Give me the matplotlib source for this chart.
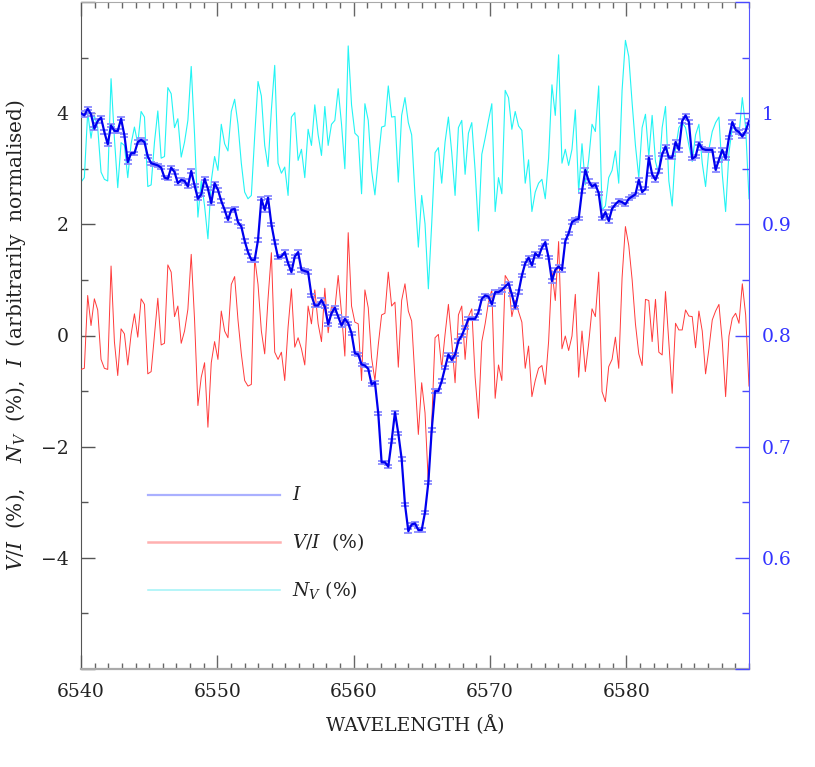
import numpy as np
import matplotlib
matplotlib.use("Agg")
import matplotlib.pyplot as plt
from matplotlib.ticker import MultipleLocator, FuncFormatter

# ---------------- data ----------------
WL_START = 6540.0      # Angstrom, first pixel
WL_STEP = 0.245        # Angstrom per pixel

# Stokes I (arbitrarily normalised), right axis
stokes_i = [
    1.000, 0.998, 1.004, 0.999, 0.986, 0.993, 0.996, 0.983, 0.972, 0.989,
    0.984, 0.984, 0.995, 0.980, 0.956, 0.964, 0.964, 0.974, 0.976, 0.974,
    0.961, 0.955, 0.954, 0.953, 0.951, 0.942, 0.941, 0.951, 0.947, 0.937,
    0.940, 0.939, 0.934, 0.948, 0.935, 0.923, 0.927, 0.941, 0.932, 0.919,
    0.937, 0.931, 0.921, 0.913, 0.904, 0.913, 0.914, 0.902, 0.898, 0.885,
    0.875, 0.868, 0.868, 0.886, 0.923, 0.913, 0.924, 0.900, 0.884, 0.870,
    0.871, 0.875, 0.865, 0.857, 0.871, 0.875, 0.859, 0.858, 0.857, 0.836,
    0.827, 0.827, 0.832, 0.826, 0.810, 0.820, 0.825, 0.817, 0.809, 0.815,
    0.811, 0.802, 0.784, 0.783, 0.774, 0.773, 0.770, 0.756, 0.758, 0.730,
    0.686, 0.686, 0.682, 0.705, 0.731, 0.712, 0.689, 0.648, 0.624, 0.630,
    0.631, 0.625, 0.625, 0.641, 0.668, 0.715, 0.750, 0.750, 0.759, 0.771,
    0.783, 0.778, 0.783, 0.795, 0.800, 0.807, 0.815, 0.815, 0.815, 0.821,
    0.833, 0.836, 0.835, 0.828, 0.839, 0.839, 0.841, 0.844, 0.847, 0.837,
    0.825, 0.839, 0.854, 0.865, 0.870, 0.863, 0.874, 0.871, 0.879, 0.884,
    0.870, 0.849, 0.859, 0.862, 0.859, 0.885, 0.892, 0.902, 0.904, 0.905,
    0.930, 0.949, 0.939, 0.934, 0.936, 0.928, 0.905, 0.911, 0.903, 0.914,
    0.918, 0.921, 0.920, 0.918, 0.923, 0.925, 0.927, 0.940, 0.929, 0.932,
    0.960, 0.945, 0.940, 0.948, 0.963, 0.970, 0.960, 0.960, 0.974, 0.967,
    0.993, 0.998, 0.992, 0.959, 0.961, 0.973, 0.968, 0.967, 0.967, 0.967,
    0.949, 0.958, 0.967, 0.959, 0.978, 0.992, 0.985, 0.983, 0.979, 0.984,
    0.993,
]
I_ERR = 0.0015

# V/I (%), left axis
v_over_i = [
    -0.61, -0.59, 0.72, 0.18, 0.66, 0.46, -0.43, -0.59, -0.61, 1.25,
    -0.11, -0.72, 0.12, 0.03, -0.53, 0.02, 0.39, -0.03, 0.66, 0.56,
    -0.69, -0.65, 0.02, 0.67, -0.17, -0.14, 1.27, 1.14, 0.34, 0.53,
    -0.14, 0.08, 0.47, 1.46, 0.28, -1.26, -0.75, -0.49, -1.65, -0.49,
    -0.11, -0.43, 0.44, 0.08, -0.04, 0.92, 1.06, 0.28, -0.33, -0.81,
    -0.91, -0.88, 1.40, 0.92, 0.08, -0.33, 0.66, 1.49, -0.30, -0.43,
    -0.30, -0.81, 0.15, 0.84, -0.21, -0.04, -0.24, -0.53, 0.53, 0.21,
    0.82, 0.21, -0.11, 0.85, 0.05, 0.53, 0.47, 1.08, 0.40, -0.37,
    1.85, 0.53, 0.24, 0.21, -0.81, 0.82, 0.50, -0.40, -0.81, -0.17,
    0.37, 0.40, 1.14, 0.53, 0.60, -0.57, 0.63, 0.93, 0.44, 0.26,
    -0.78, -1.78, -0.85, -1.39, -2.67, -1.58, -0.04, 0.02, -0.59, 0.02,
    0.56, -0.11, -0.85, 0.37, 0.53, -0.43, 0.34, 0.48, -0.75, -1.49,
    -0.11, 0.21, 0.60, 0.82, -1.13, -0.53, -0.81, 1.08, 0.98, 0.34,
    0.63, 0.43, 0.24, -0.59, -0.19, -1.10, -0.81, -0.59, -0.54, -0.88,
    -0.11, 1.17, 0.63, 1.69, -0.24, -0.01, -0.27, -0.01, 0.74, -0.75,
    0.08, -0.65, -0.14, 0.48, 0.34, 1.14, -1.01, -1.19, -0.56, -0.43,
    -0.03, -0.59, 1.04, 1.96, 1.62, 1.01, 0.21, -0.33, -0.54, 0.65,
    0.63, -0.11, 0.65, -0.30, -0.35, 0.79, -0.11, -1.04, 0.22, 0.10,
    0.10, 0.46, 0.35, 0.34, -0.22, 0.44, 0.08, -0.69, -0.24, 0.28,
    0.44, 0.56, -0.11, -1.10, -0.01, 0.31, 0.40, 0.22, 0.93, 0.37,
    -0.91,
]

# N_V (%), as drawn (shifted up), left axis
null_v = [
    2.76, 2.84, 4.01, 3.55, 3.96, 3.74, 2.94, 2.81, 2.78, 4.62,
    3.55, 2.66, 3.47, 3.42, 2.84, 3.45, 3.75, 3.45, 4.03, 3.93,
    2.68, 2.71, 3.48, 4.04, 3.19, 3.22, 4.46, 4.35, 3.74, 3.90,
    3.21, 3.48, 3.87, 4.84, 3.61, 2.13, 2.78, 2.33, 1.74, 2.78,
    3.22, 2.97, 3.80, 3.45, 3.32, 4.03, 4.25, 3.80, 3.10, 2.58,
    2.46, 2.52, 3.58, 4.57, 4.31, 3.42, 3.04, 4.06, 4.86, 3.10,
    2.92, 3.03, 2.52, 3.93, 4.01, 3.15, 3.35, 2.84, 3.71, 3.42,
    4.15, 3.61, 3.24, 4.12, 3.42, 3.80, 3.87, 4.44, 3.80, 3.00,
    5.21, 4.15, 3.64, 3.58, 2.55, 4.17, 3.87, 2.97, 2.53, 3.16,
    3.75, 3.77, 4.49, 3.93, 3.94, 2.76, 3.96, 4.28, 3.83, 3.61,
    2.52, 1.59, 2.52, 2.01, 0.84, 2.01, 3.29, 3.38, 2.74, 3.48,
    3.93, 3.29, 2.52, 3.74, 3.87, 2.90, 3.64, 3.83, 2.97, 1.88,
    3.26, 3.55, 3.87, 4.17, 2.23, 2.84, 2.55, 4.41, 4.28, 3.71,
    4.03, 3.77, 3.69, 2.74, 3.16, 2.23, 2.58, 2.74, 2.81, 2.46,
    3.19, 4.51, 3.96, 5.05, 3.10, 3.35, 3.06, 3.35, 4.06, 2.58,
    3.45, 2.71, 3.16, 3.80, 3.67, 4.49, 2.26, 2.33, 2.84, 2.97,
    3.32, 2.74, 4.41, 5.31, 5.02, 4.19, 3.42, 2.84, 3.74, 3.98,
    3.22, 3.96, 3.13, 2.90, 3.74, 4.12, 2.78, 2.33, 3.35, 3.74,
    3.83, 3.74, 3.42, 3.13, 3.61, 3.80, 3.10, 2.68, 3.35, 3.67,
    3.83, 3.93, 2.90, 2.23, 3.29, 3.74, 3.74, 3.61, 4.28, 3.74,
    2.46,
]

x_ticks_major = [6540, 6550, 6560, 6570, 6580]

# ---------------- figure ----------------
plt.rcParams['font.family'] = ['DejaVu Serif']
plt.rcParams['mathtext.fontset'] = 'dejavuserif'

wl = WL_START + WL_STEP * np.arange(len(stokes_i))

fig = plt.figure(figsize=(8.15, 7.67), dpi=100)
ax = fig.add_axes([81 / 815, 98 / 767, 668 / 815, 667 / 767])
ax2 = ax.twinx()

TXT = '#222222'
FS = 13.5

ax.plot(wl, null_v, color='#22f4f4', lw=0.8, zorder=2)
ax.plot(wl, v_over_i, color='#ff3a3a', lw=0.7, zorder=3)

ax2.errorbar(wl, stokes_i, yerr=I_ERR, fmt='none', ecolor='#8a8aff',
             elinewidth=1.0, capsize=2.6, capthick=1.3, zorder=4)
ax2.plot(wl, stokes_i, color='#0000ee', lw=1.6, zorder=5)

ax.set_xlim(6540, 6589)
ax.set_ylim(-6, 6)
ax2.set_ylim(0.5, 1.1)

ax.set_xticks(x_ticks_major)
ax.xaxis.set_minor_locator(MultipleLocator(1))
ax.yaxis.set_major_locator(MultipleLocator(2))
ax.yaxis.set_minor_locator(MultipleLocator(1))
ax.yaxis.set_major_formatter(FuncFormatter(
    lambda v, p: '' if abs(v) > 5 else ('%d' % v).replace('-', '\u2212')))
ax2.yaxis.set_major_locator(MultipleLocator(0.1))
ax2.yaxis.set_minor_locator(MultipleLocator(0.05))
ax2.yaxis.set_major_formatter(FuncFormatter(
    lambda v, p: '' if (v < 0.55 or v > 1.05) else ('1' if abs(v - 1) < 1e-6 else '%.1f' % v)))

tl = 10.0
ax.tick_params(axis='x', which='major', direction='in', length=tl, width=1,
               color='#666666', top=True, bottom=True, labelsize=FS,
               labelcolor=TXT, pad=10)
ax.tick_params(axis='x', which='minor', direction='in', length=4.4, width=1,
               color='#666666', top=True, bottom=True)
ax.tick_params(axis='y', which='major', direction='in', length=tl, width=1,
               color='#555555', right=False, labelsize=FS, labelcolor=TXT, pad=9)
ax.tick_params(axis='y', which='minor', direction='in', length=5.0, width=1,
               color='#555555', right=False)
ax2.tick_params(axis='y', which='major', direction='in', length=tl, width=1,
                color='#4a4aff', labelsize=FS, labelcolor='#3333ff', pad=9)
ax2.tick_params(axis='y', which='minor', direction='in', length=5.0, width=1,
                color='#4a4aff')

for s in ('top', 'bottom'):
    ax.spines[s].set_color('#aaaaaa')
ax.spines['bottom'].set_linewidth(1.6)
ax.spines['left'].set_color('#555555')
ax.spines['right'].set_visible(False)
for s in ('left', 'top', 'bottom'):
    ax2.spines[s].set_visible(False)
ax2.spines['right'].set_color('#5555ff')

ax.set_xlabel('WAVELENGTH (\u00c5)', fontsize=FS, color=TXT, labelpad=10)
ax.set_ylabel(r'$V/I$  (%),    $N_V$  (%),  $I$  (arbitrarily  normalised)',
              fontsize=14.5, color=TXT, labelpad=9)

# legend (drawn by hand, axes-fraction positions)
lx0, lx1, tx = 0.100, 0.298, 0.316
ax2.plot([lx0, lx1], [0.261, 0.261], transform=ax.transAxes, color='#aab0ff', lw=1.6, zorder=6)
ax2.plot([lx0, lx1], [0.191, 0.191], transform=ax.transAxes, color='#ffb0b0', lw=1.8, zorder=6)
ax2.plot([lx0, lx1], [0.119, 0.119], transform=ax.transAxes, color='#a0f2f6', lw=1.1, zorder=6)
ax.text(tx, 0.261, r'$I$', transform=ax.transAxes, fontsize=FS, color=TXT, va='center')
ax.text(tx, 0.191, r'$V/I$  (%)', transform=ax.transAxes, fontsize=FS, color=TXT, va='center')
ax.text(tx, 0.119, r'$N_V$ (%)', transform=ax.transAxes, fontsize=FS, color=TXT, va='center')

fig.savefig('out.png', dpi=100)
